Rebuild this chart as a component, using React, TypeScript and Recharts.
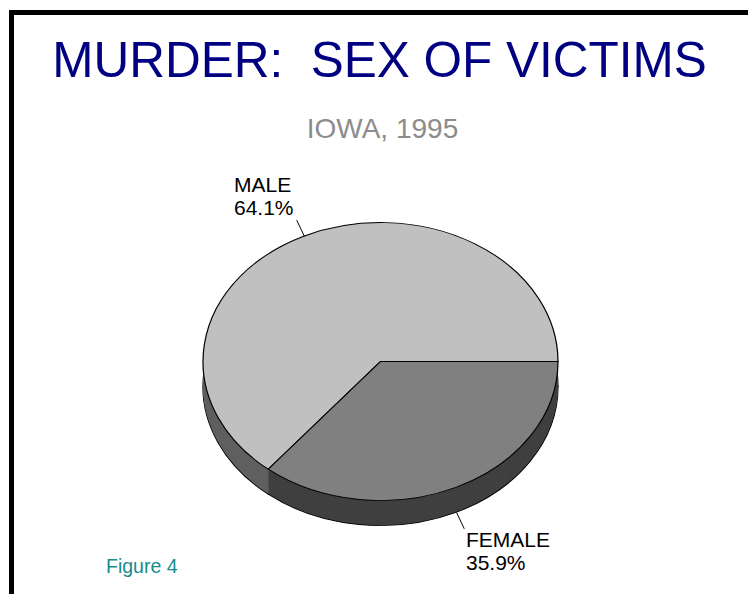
import { PieChart, Pie, Cell } from 'recharts';

// Iowa 1995 murder victims by sex (percent)
const sexes = ['MALE', 'FEMALE'];
const victimPct = [64.1, 35.9];

const topColors = ['#c0c0c0', '#808080'];
const sideColors = ['#606060', '#404040'];

// screen geometry of the tilted pie
const CX = 380.5;
const CY = 362;
const RX = 177.5;
const RY = 139;
const DEPTH = 25;
const SCALE = RY / RX;
const PRE_CY = RX + 2;
const PRE_DEPTH = DEPTH / SCALE;
const CHART_W = Math.ceil(2 * RX + 4);
const CHART_H = Math.ceil(PRE_CY + PRE_DEPTH + RX + 4);

const pieData = sexes.map((name, i) => ({ name, value: victimPct[i] }));

// side layers, from bottom up
const sideOffsets: number[] = [];
for (let o = PRE_DEPTH; o > 0; o -= 1) sideOffsets.push(o);

const FONT = '"Liberation Sans", Arial, Helvetica, sans-serif';

// leader line for each slice, from the rim out along the mid angle
const total = victimPct.reduce((s, v) => s + v, 0);
const leaders = (() => {
  let acc = 0;
  return victimPct.map((v) => {
    const mid = ((acc + v / 2) / total) * 360;
    acc += v;
    const rad = (mid * Math.PI) / 180;
    const c = Math.cos(rad);
    const s = Math.sin(rad);
    const x1 = CX + RX * c;
    const y1 = CY - RY * s + (s < 0 ? DEPTH : 0);
    return { x1, y1, x2: x1 + c * 18, y2: y1 - s * 18 };
  });
})();

const labelPos = [
  { x: 234, y: 192 },
  { x: 466, y: 547 },
];

export default function App() {
  return (
    <div style={{ position: 'absolute', left: 0, top: 0, width: 748, height: 594, background: '#fff', overflow: 'hidden' }}>
      <div
        style={{
          position: 'absolute',
          left: 9,
          top: 10,
          right: 0,
          bottom: 0,
          borderTop: '5px solid #000',
          borderLeft: '5px solid #000',
        }}
      />

      <div
        style={{
          position: 'absolute',
          left: CX - CHART_W / 2,
          top: CY - PRE_CY * SCALE,
          width: CHART_W,
          height: CHART_H,
          transform: `scaleY(${SCALE})`,
          transformOrigin: '0 0',
        }}
      >
        <PieChart width={CHART_W} height={CHART_H} margin={{ top: 0, right: 0, bottom: 0, left: 0 }}>
          {sideOffsets.map((off, li) => (
            <Pie
              key={`side-${li}`}
              data={pieData}
              dataKey="value"
              nameKey="name"
              cx={CHART_W / 2}
              cy={PRE_CY + off}
              outerRadius={RX}
              startAngle={0}
              endAngle={360}
              stroke={li === 0 ? '#000' : 'none'}
              strokeWidth={li === 0 ? 1.2 : 0}
              isAnimationActive={false}
            >
              {pieData.map((d, i) => (
                <Cell key={d.name} fill={sideColors[i]} />
              ))}
            </Pie>
          ))}
          <Pie
            data={pieData}
            dataKey="value"
            nameKey="name"
            cx={CHART_W / 2}
            cy={PRE_CY}
            outerRadius={RX}
            startAngle={0}
            endAngle={360}
            stroke="#000"
            strokeWidth={1.2}
            isAnimationActive={false}
          >
            {pieData.map((d, i) => (
              <Cell key={d.name} fill={topColors[i]} />
            ))}
          </Pie>
        </PieChart>
      </div>

      <svg width={748} height={594} style={{ position: 'absolute', left: 0, top: 0, pointerEvents: 'none' }}>
        <text x={379.5} y={77} textAnchor="middle" fontFamily={FONT} fontSize={49.5} fill="#000080" style={{ whiteSpace: 'pre' }}>
          {'MURDER:  SEX OF VICTIMS'}
        </text>
        <text x={382.5} y={138} textAnchor="middle" fontFamily={FONT} fontSize={28} fill="#8c8c8c">
          IOWA, 1995
        </text>

        {leaders.map((l, i) => (
          <line key={`ll-${i}`} x1={l.x1} y1={l.y1} x2={l.x2} y2={l.y2} stroke="#000" strokeWidth={1} />
        ))}
        {pieData.map((d, i) => (
          <text key={`lb-${d.name}`} fontFamily={FONT} fontSize={21} fill="#000">
            <tspan x={labelPos[i].x} y={labelPos[i].y}>{d.name}</tspan>
            <tspan x={labelPos[i].x} y={labelPos[i].y + 23}>{`${d.value.toFixed(1)}%`}</tspan>
          </text>
        ))}

        <text x={106} y={573} fontFamily={FONT} fontSize={19.5} fill="#178c8c">
          Figure 4
        </text>
      </svg>
    </div>
  );
}
